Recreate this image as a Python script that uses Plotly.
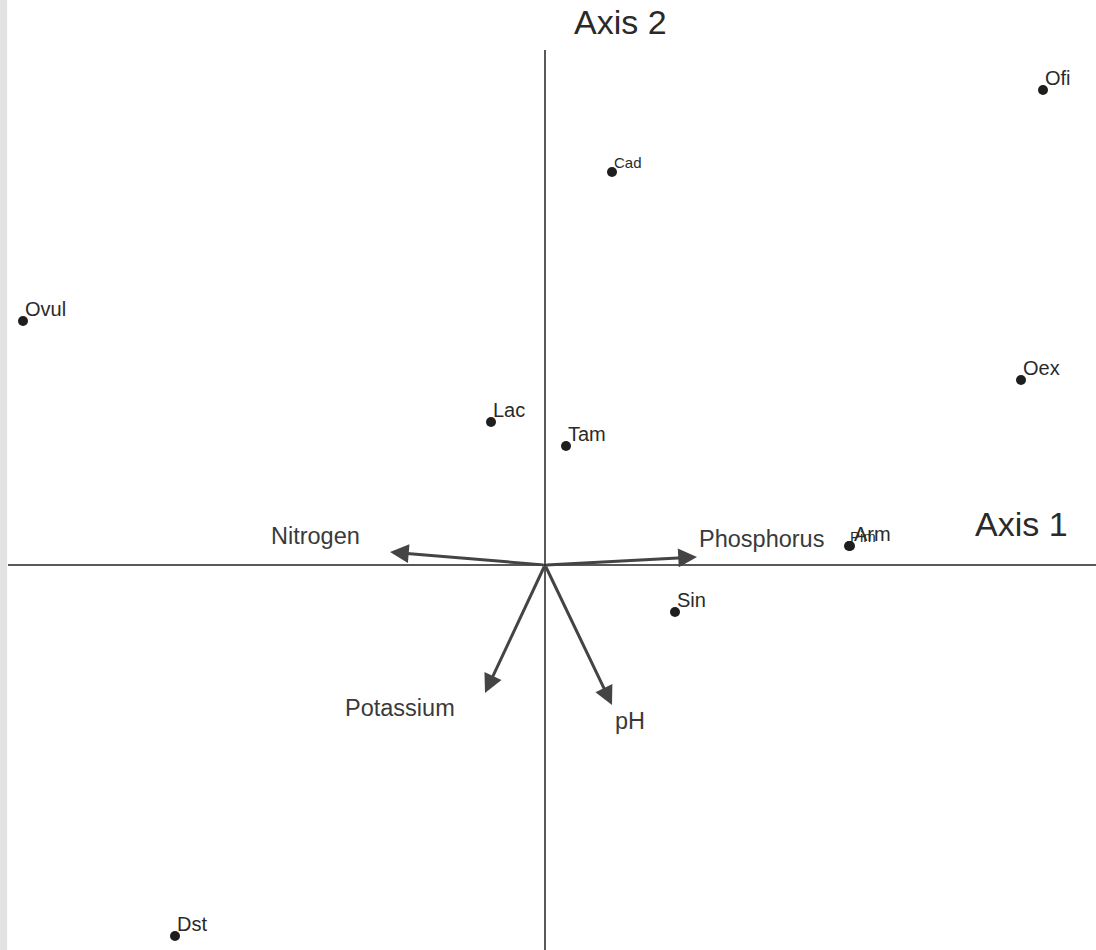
import plotly.graph_objects as go

# Site scores (ordination units)
sites = ["Ofi", "Cad", "Ovul", "Oex", "Lac", "Tam", "Pim", "Arm", "Sin", "Dst"]
axis1 = [4.98, 0.67, -5.22, 4.76, -0.54, 0.21, 3.04, 3.05, 1.30, -3.70]
axis2 = [4.75, 3.93, 2.44, 1.85, 1.43, 1.19, 0.19, 0.19, -0.47, -3.71]
label_sizes = [20, 15, 20, 20, 20, 20, 15, 20, 20, 20]
label_xshift = [0, 0, 0, 0, 0, 0, -1, 2, 0, 0]

# Environmental vectors
variables = ["Nitrogen", "Phosphorus", "Potassium", "pH"]
vec1 = [-1.55, 1.52, -0.60, 0.67]
vec2 = [0.13, 0.08, -1.28, -1.40]

XR = [-5.45, 5.51]
YR = [-3.85, 5.65]
FONT = "Liberation Sans, Arial"

fig = go.Figure()

# axes lines
fig.add_shape(type="line", x0=-5.37, x1=XR[1], y0=0, y1=0, xref="x", yref="y",
              line=dict(color="#222", width=1.5))
fig.add_shape(type="line", x0=0, x1=0, y0=YR[0], y1=5.15, xref="x", yref="y",
              line=dict(color="#222", width=1.5))

# left gray strip (scan edge)
fig.add_shape(type="rect", xref="paper", yref="paper", x0=0, x1=0.0065, y0=0, y1=1,
              fillcolor="#e2e2e2", line=dict(width=0), layer="below")

fig.add_trace(go.Scatter(
    x=axis1, y=axis2, mode="markers",
    marker=dict(size=10, color="#1e1e1e"),
    hoverinfo="text", hovertext=sites, showlegend=False))

for name, x, y, s, xs in zip(sites, axis1, axis2, label_sizes, label_xshift):
    fig.add_annotation(x=x, y=y, xref="x", yref="y", text=name, showarrow=False,
                       xanchor="left", yanchor="bottom", xshift=xs, yshift=-1,
                       font=dict(size=s, color="#2a2a2a", family=FONT))

# vectors
for name, x, y in zip(variables, vec1, vec2):
    fig.add_annotation(x=x, y=y, ax=0, ay=0, xref="x", yref="y", axref="x", ayref="y",
                       text="", showarrow=True, arrowhead=2, arrowsize=1.25,
                       arrowwidth=3, arrowcolor="#444")

var_label_pos = {"Nitrogen": (-2.30, 0.29), "Phosphorus": (2.16, 0.26),
                 "Potassium": (-1.45, -1.43), "pH": (0.85, -1.56)}
for name in variables:
    lx, ly = var_label_pos[name]
    fig.add_annotation(x=lx, y=ly, xref="x", yref="y", text=name, showarrow=False,
                       font=dict(size=23.5, color="#3a3a3a", family=FONT))

fig.add_annotation(x=4.76, y=0.41, xref="x", yref="y", text="Axis 1", showarrow=False,
                   font=dict(size=34, color="#2a2a2a", family=FONT))
fig.add_annotation(x=0.75, y=5.43, xref="x", yref="y", text="Axis 2", showarrow=False,
                   font=dict(size=34, color="#2a2a2a", family=FONT))

fig.update_layout(
    width=1096, height=950,
    margin=dict(l=0, r=0, t=0, b=0),
    paper_bgcolor="white", plot_bgcolor="white",
    xaxis=dict(range=XR, visible=False, showgrid=False, zeroline=False),
    yaxis=dict(range=YR, visible=False, showgrid=False, zeroline=False),
    showlegend=False,
)

fig.write_html("out.html", config={"displayModeBar": False},
               post_script="document.body.style.margin='0px';document.body.style.overflow='hidden';")
